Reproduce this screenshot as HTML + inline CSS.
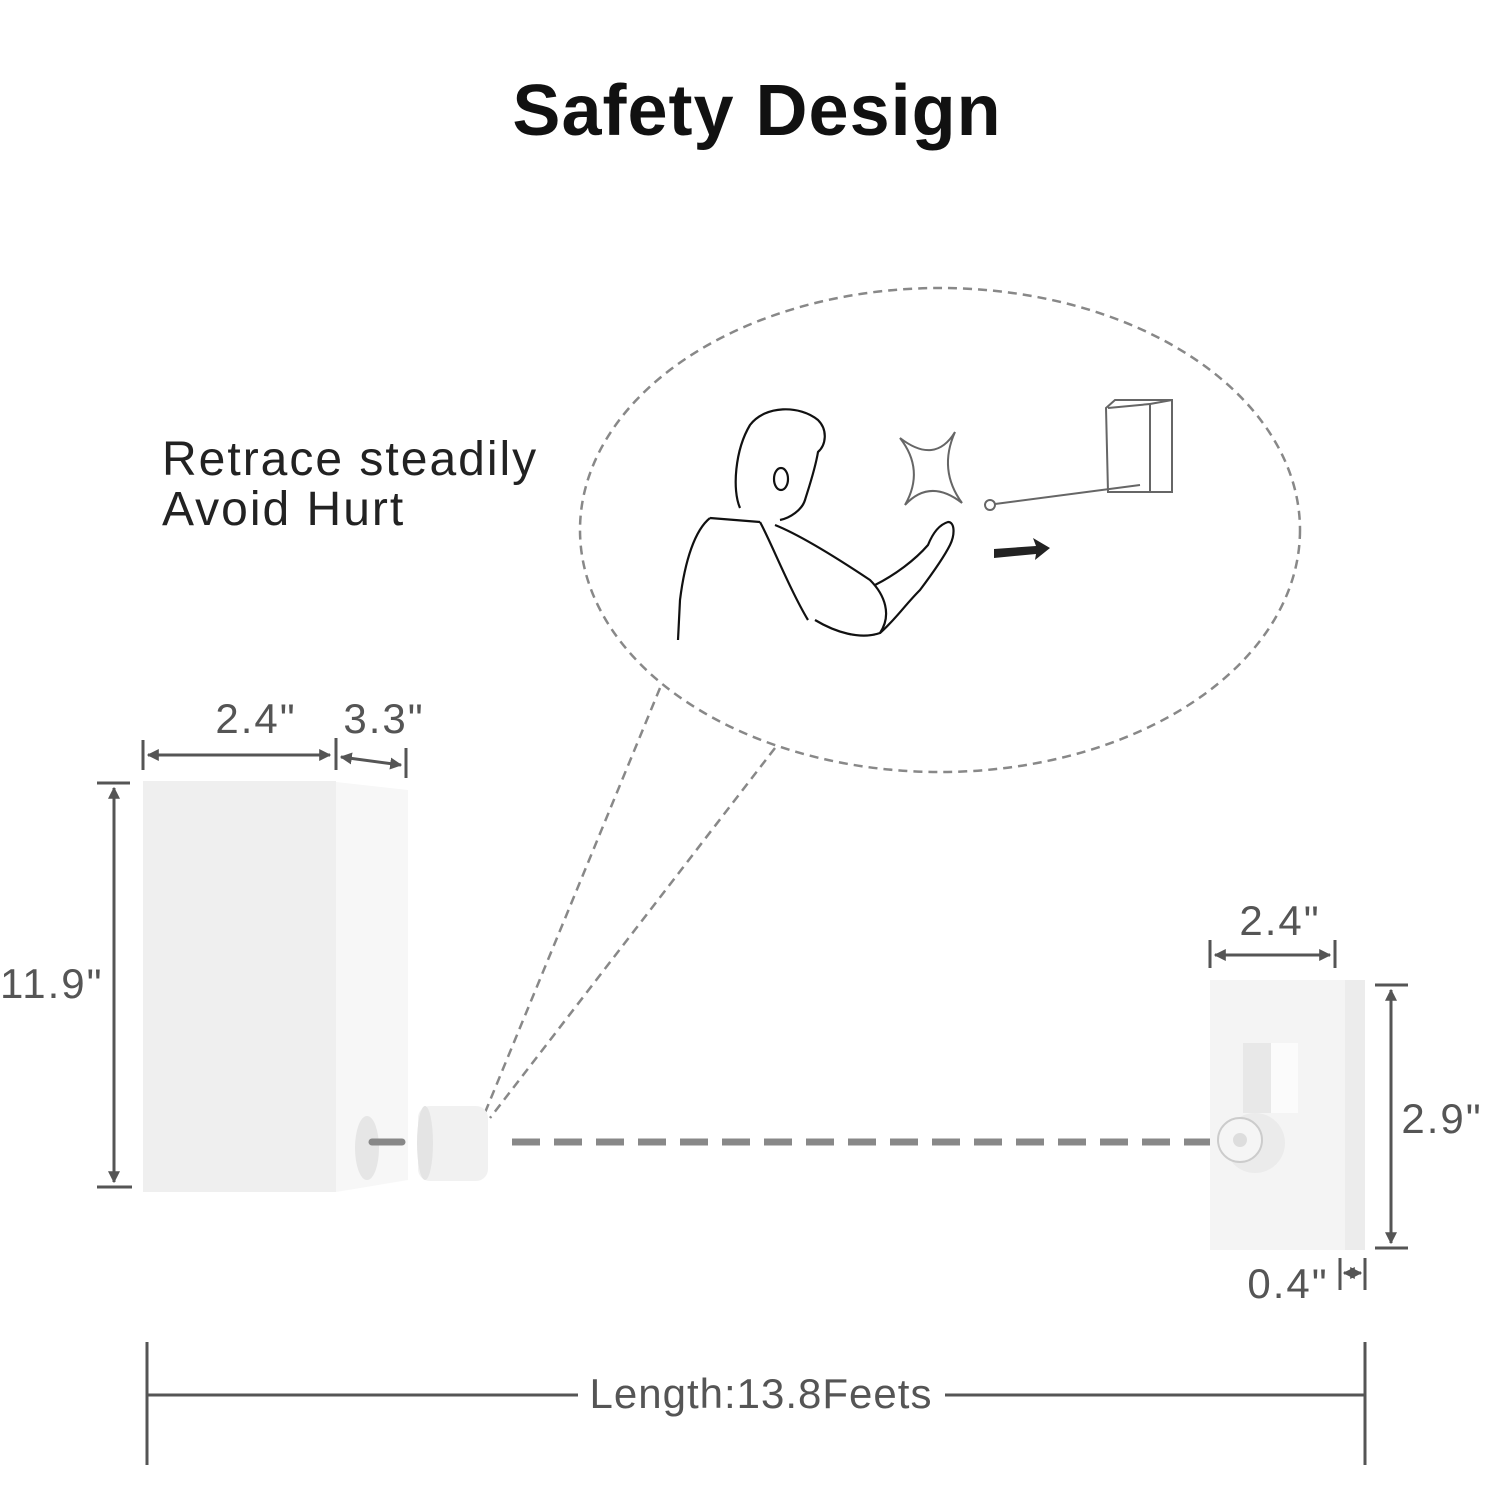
<!DOCTYPE html>
<html><head><style>
html,body{margin:0;padding:0;background:#fff;}
svg{display:block}
</style></head><body>
<svg width="1500" height="1500" viewBox="0 0 1500 1500" xmlns="http://www.w3.org/2000/svg">
<defs>
<marker id="a" viewBox="0 0 10 10" refX="9" refY="5" markerWidth="4" markerHeight="4" orient="auto-start-reverse"><path d="M0,0 L10,5 L0,10 z" fill="#555"/></marker>
</defs>
<text x="757" y="135" text-anchor="middle" font-family="Liberation Sans, sans-serif" font-weight="bold" font-size="72" letter-spacing="1" fill="#111">Safety Design</text>
<text x="162" y="475" font-family="Liberation Sans, sans-serif" font-size="48" letter-spacing="2" fill="#222">Retrace steadily</text>
<text x="162" y="525" font-family="Liberation Sans, sans-serif" font-size="48" letter-spacing="2" fill="#222">Avoid Hurt</text>

<ellipse cx="940" cy="530" rx="360" ry="242" fill="none" stroke="#888" stroke-width="2.5" stroke-dasharray="9 6"/>
<line x1="660" y1="688" x2="484" y2="1115" stroke="#888" stroke-width="2.5" stroke-dasharray="9 6"/>
<line x1="775" y1="748" x2="490" y2="1118" stroke="#888" stroke-width="2.5" stroke-dasharray="9 6"/>

<g fill="none" stroke="#111" stroke-width="2.2" stroke-linejoin="round">
<path d="M740,508 C732,490 735,450 750,425 C765,405 800,405 818,420 C828,430 826,445 818,452 C815,470 808,490 805,500 C802,510 790,518 780,520"/>
<ellipse cx="781" cy="479" rx="7" ry="11"/>
<path d="M710,518 L760,522 M710,518 C695,530 685,560 680,600 L678,640"/>
<path d="M760,522 C770,540 790,590 808,620 M775,525 C800,535 840,560 870,580 C885,595 892,615 880,633 C860,640 835,632 815,620"/>
<path d="M875,585 C895,575 915,560 928,545 C932,535 938,525 948,522 C955,522 955,535 950,545 C945,555 935,570 920,590 C905,605 895,620 880,633"/>
</g>
<g fill="none" stroke="#666" stroke-width="2">
<path d="M900,438 Q935,465 955,432 Q938,470 962,503 Q930,478 905,505 Q925,470 900,438 z"/>
<circle cx="990" cy="505" r="5"/>
<line x1="995" y1="504" x2="1140" y2="485"/>
<path d="M1106,408 L1115,400 L1172,400 L1172,492 L1108,492 z M1108,408 L1150,404 L1150,492 M1150,404 L1172,400"/>
</g>
<path d="M994,549 L1036,546 L1033,538 L1050,548 L1035,560 L1036,554 L994,558 z" fill="#222"/>

<polygon points="336,782 408,790 408,1180 336,1192" fill="#f7f7f7"/>
<rect x="143" y="781" width="193" height="411" fill="#efefef"/>
<ellipse cx="367" cy="1148" rx="12" ry="32" fill="#e6e6e6"/>
<rect x="418" y="1106" width="70" height="75" rx="12" fill="#f1f1f1"/>
<ellipse cx="425" cy="1143" rx="8" ry="37" fill="#e4e4e4"/>

<line x1="372" y1="1142" x2="402" y2="1142" stroke="#888" stroke-width="7" stroke-linecap="round"/>
<line x1="512" y1="1142" x2="1235" y2="1142" stroke="#888" stroke-width="7" stroke-dasharray="28 14"/>

<rect x="1210" y="980" width="150" height="270" fill="#f4f4f4"/>
<rect x="1345" y="980" width="20" height="270" fill="#ececec"/>
<rect x="1243" y="1043" width="55" height="70" fill="#fbfbfb"/>
<rect x="1243" y="1043" width="28" height="70" fill="#e8e8e8"/>
<circle cx="1255" cy="1143" r="30" fill="#ebebeb"/>
<circle cx="1240" cy="1140" r="22" fill="#f5f5f5" stroke="#ccc" stroke-width="2"/>
<circle cx="1240" cy="1140" r="7" fill="#ddd"/>

<g stroke="#555" stroke-width="3" fill="none">
<line x1="143" y1="740" x2="143" y2="770"/><line x1="336" y1="738" x2="336" y2="770"/><line x1="406" y1="748" x2="406" y2="778"/>
<line x1="148" y1="755" x2="330" y2="755" marker-start="url(#a)" marker-end="url(#a)"/>
<line x1="341" y1="757" x2="401" y2="765" marker-start="url(#a)" marker-end="url(#a)"/>
<line x1="97" y1="783" x2="130" y2="783"/><line x1="97" y1="1187" x2="132" y2="1187"/>
<line x1="114" y1="788" x2="114" y2="1182" marker-start="url(#a)" marker-end="url(#a)"/>
<line x1="1210" y1="940" x2="1210" y2="968"/><line x1="1335" y1="940" x2="1335" y2="968"/>
<line x1="1215" y1="955" x2="1330" y2="955" marker-start="url(#a)" marker-end="url(#a)"/>
<line x1="1375" y1="985" x2="1408" y2="985"/><line x1="1375" y1="1248" x2="1408" y2="1248"/>
<line x1="1391" y1="990" x2="1391" y2="1243" marker-start="url(#a)" marker-end="url(#a)"/>
<line x1="1340" y1="1258" x2="1340" y2="1290"/><line x1="1365" y1="1258" x2="1365" y2="1290"/>
<line x1="1344" y1="1273" x2="1361" y2="1273" marker-start="url(#a)" marker-end="url(#a)"/>
<line x1="147" y1="1342" x2="147" y2="1465"/><line x1="1365" y1="1342" x2="1365" y2="1465"/>
<line x1="147" y1="1395" x2="578" y2="1395"/><line x1="945" y1="1395" x2="1365" y2="1395"/>
</g>
<g font-family="Liberation Sans, sans-serif" font-size="42" letter-spacing="2" fill="#555">
<text x="256" y="733" text-anchor="middle">2.4"</text>
<text x="384" y="733" text-anchor="middle">3.3"</text>
<text x="0" y="998">11.9"</text>
<text x="1280" y="935" text-anchor="middle">2.4"</text>
<text x="1442" y="1133" text-anchor="middle">2.9"</text>
<text x="1288" y="1298" text-anchor="middle">0.4"</text>
<text x="761" y="1408" text-anchor="middle" letter-spacing="1">Length:13.8Feets</text>
</g>
</svg>
</body></html>
